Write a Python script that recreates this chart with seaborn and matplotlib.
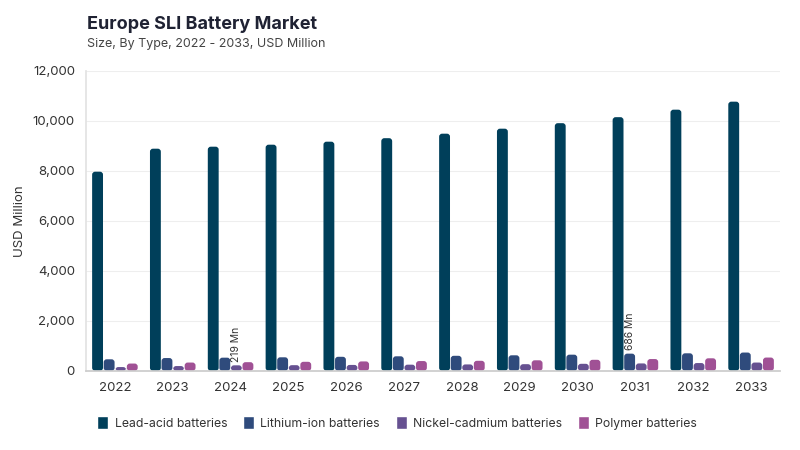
import matplotlib
matplotlib.use("Agg")
import matplotlib.pyplot as plt
import seaborn as sns
import pandas as pd
from matplotlib.patches import FancyBboxPatch

years = ["2022", "2023", "2024", "2025", "2026", "2027", "2028", "2029", "2030", "2031", "2032", "2033"]
lead_acid = [7960, 8880, 8960, 9040, 9160, 9300, 9480, 9680, 9900, 10140, 10440, 10760]
lithium_ion = [460, 510, 525, 540, 560, 580, 600, 620, 645, 686, 700, 730]
nickel_cadmium = [150, 190, 219, 225, 235, 245, 255, 265, 280, 295, 310, 330]
polymer = [290, 330, 345, 360, 375, 390, 400, 420, 440, 470, 500, 530]
series_names = ["Lead-acid batteries", "Lithium-ion batteries", "Nickel-cadmium batteries", "Polymer batteries"]
colors = ["#003f5a", "#2f4b7c", "#665191", "#a05195"]

df = pd.DataFrame({
    "Year": years * 4,
    "Type": sum([[n] * len(years) for n in series_names], []),
    "Value": lead_acid + lithium_ion + nickel_cadmium + polymer,
})

sns.set_theme(style="white")
plt.rcParams["font.family"] = ["Inter", "DejaVu Sans"]

fig = plt.figure(figsize=(8, 4.5), dpi=100)
ax = fig.add_axes([0.1075, 0.176, 0.8675, 0.667])

sns.barplot(data=df, x="Year", y="Value", hue="Type", palette=colors,
            width=0.8, gap=0.06, ax=ax, legend=True, saturation=1)

ax.set_ylim(0, 12000)
ax.set_xlim(-0.5, 11.5)
ax.set_yticks(range(0, 12001, 2000))
ax.set_yticklabels([f"{v:,}" for v in range(0, 12001, 2000)], fontsize=9.5, color="#333333")
ax.tick_params(axis="x", labelsize=9.5, colors="#333333", length=0, pad=8)
ax.tick_params(axis="y", length=0, pad=8)
ax.yaxis.grid(True, color="#eeeeee", linewidth=0.8)
ax.set_axisbelow(True)
for s in ["top", "right"]:
    ax.spines[s].set_visible(False)
ax.spines["left"].set_color("#e3e3e3")
ax.spines["bottom"].set_color("#cccccc")
ax.set_xlabel("")
ax.set_ylabel("USD Million", fontsize=9.5, color="#333333", labelpad=5)

# rounded bar tops
fig.canvas.draw()
px_x = (ax.get_xlim()[1] - ax.get_xlim()[0]) / ax.get_window_extent().width
px_y = (ax.get_ylim()[1] - ax.get_ylim()[0]) / ax.get_window_extent().height
aspect = px_y / px_x
for cont in ax.containers:
    for bar in cont:
        x, y = bar.get_x(), bar.get_y()
        w, h = bar.get_width(), bar.get_height()
        r = min(3 * px_x, w / 2)
        fb = FancyBboxPatch((x, y), w, h, boxstyle=f"round,pad=0,rounding_size={r}",
                            mutation_aspect=aspect, facecolor=bar.get_facecolor(),
                            edgecolor="none", zorder=bar.get_zorder())
        ax.add_patch(fb)
        bar.set_visible(False)

# annotations
bar_nc = ax.containers[2][2]
ax.text(bar_nc.get_x() + bar_nc.get_width() / 2, nickel_cadmium[2] + 150, f"{nickel_cadmium[2]} Mn",
        rotation=90, ha="center", va="bottom", fontsize=7.5, color="#333333")
bar_li = ax.containers[1][9]
ax.text(bar_li.get_x() + bar_li.get_width() / 2, lithium_ion[9] + 150, f"{lithium_ion[9]} Mn",
        rotation=90, ha="center", va="bottom", fontsize=7.5, color="#333333")

handles, labels = ax.get_legend_handles_labels()
ax.legend_.remove()
leg = fig.legend(handles, labels, loc="center left", bbox_to_anchor=(0.108, 0.06), ncol=4,
                 frameon=False, fontsize=8.8, handlelength=0.9, handleheight=1.3,
                 columnspacing=1.3, handletextpad=0.5)
for t in leg.get_texts():
    t.set_color("#333333")

fig.text(0.109, 0.935, "Europe SLI Battery Market", fontsize=13, fontweight="bold", color="#1f2233")
fig.text(0.109, 0.895, "Size, By Type, 2022 - 2033, USD Million", fontsize=9, color="#444444")

fig.savefig("out.png", dpi=100)
